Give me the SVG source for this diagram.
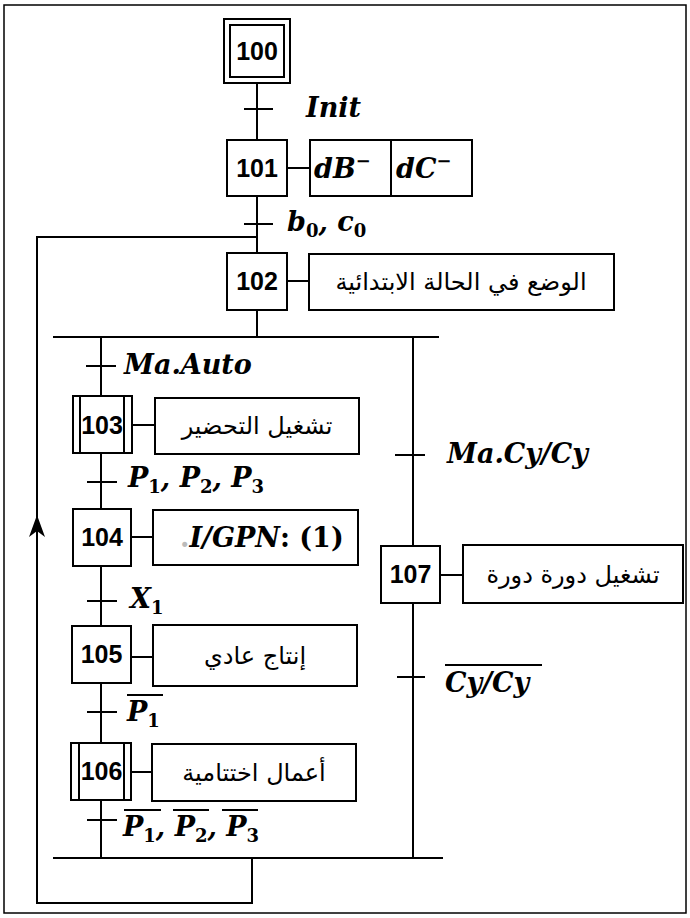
<svg xmlns="http://www.w3.org/2000/svg" width="690" height="918" viewBox="0 0 690 918">
<defs>
<style>
.st{fill:#fff;stroke:#000;stroke-width:2}
.ln{stroke:#000;stroke-width:2;fill:none}
.num{font-family:"Liberation Sans",Arial,sans-serif;font-weight:bold;font-size:25px;text-anchor:middle}
.math{font-family:"DejaVu Serif",serif;font-style:italic;font-weight:bold;font-size:27px}
.up{font-style:normal}
.ar{font-family:"DejaVu Sans",sans-serif;font-size:24px;text-anchor:middle;direction:rtl}
</style>
<marker id="arr" markerUnits="userSpaceOnUse" markerWidth="22" markerHeight="16" viewBox="0 0 22 16" refX="22" refY="8" orient="auto">
<path d="M0,0 L22,8 L0,16 L6,8 z" fill="#000"/>
</marker>
</defs>
<rect x="0" y="0" width="690" height="918" fill="#fff"/>
<rect x="4" y="5" width="682" height="908" fill="none" stroke="#000" stroke-width="1.5"/>

<g id="connectors">
<path class="ln" d="M257,83 V140 M257,196 V253 M257,310 V337"/>
<path class="ln" d="M53,337 H439 M53,858 H443"/>
<path class="ln" d="M101,337 V396 M101,453 V509 M101,566 V626 M101,683 V743 M101,800 V858"/>
<path class="ln" d="M413,337 V546 M413,603 V858"/>
<path class="ln" d="M252,858 V903 H37 V237 H257"/>
<path class="ln" d="M37,560 V515" marker-end="url(#arr)"/>
<path class="ln" d="M244,109 H273 M244,224 H273 M86,366 H116 M87,482 H117 M87,601 H117 M87,712 H117 M87,820 H117 M395,455 H425 M397,677 H425"/>
<path class="ln" d="M287,168 H310 M287,281 H309 M132,425 H155 M131,537 H153 M131,657 H153 M131,772 H152 M440,575 H463"/>
</g>

<g id="s100">
<rect class="st" x="224" y="19" width="66" height="64"/>
<rect class="st" x="230" y="25" width="54" height="52"/>
<text class="num" x="257" y="60">100</text>
</g>
<g id="t-init"><text class="math" x="306" y="117">Init</text></g>

<g id="s101">
<rect class="st" x="227" y="140" width="60" height="56"/>
<text class="num" x="257" y="177">101</text>
</g>
<g id="a101">
<rect class="st" x="310" y="140" width="162" height="56"/>
<path class="ln" d="M391,140 V196"/>
<text class="math" x="314" y="178">dB<tspan class="up" font-size="18" dy="-11">−</tspan></text>
<text class="math" x="396" y="178">dC<tspan class="up" font-size="18" dy="-11">−</tspan></text>
</g>
<g id="t-b0c0"><text class="math" x="287" y="231">b<tspan class="up" font-size="18" dy="6">0</tspan><tspan dy="-6">, c</tspan><tspan class="up" font-size="18" dy="6">0</tspan></text></g>

<g id="s102">
<rect class="st" x="227" y="253" width="60" height="57"/>
<text class="num" x="257" y="290">102</text>
</g>
<g id="a102">
<rect class="st" x="309" y="254" width="305" height="56"/>
<text class="ar" x="461" y="290">الوضع في الحالة الابتدائية</text>
</g>

<g id="t-maauto"><text class="math" x="124" y="374">Ma.Auto</text></g>

<g id="s103">
<rect class="st" x="73" y="396" width="59" height="57"/>
<path class="ln" d="M80,396 V453 M124,396 V453"/>
<text class="num" x="102" y="434">103</text>
</g>
<g id="a103">
<rect class="st" x="155" y="398" width="204" height="56"/>
<text class="ar" x="257" y="434">تشغيل التحضير</text>
</g>
<g id="t-p123"><text class="math" x="128" y="487">P<tspan class="up" font-size="18" dy="6">1</tspan><tspan dy="-6">, P</tspan><tspan class="up" font-size="18" dy="6">2</tspan><tspan dy="-6">, P</tspan><tspan class="up" font-size="18" dy="6">3</tspan></text></g>

<g id="s104">
<rect class="st" x="73" y="509" width="58" height="57"/>
<text class="num" x="102" y="546">104</text>
</g>
<g id="a104">
<rect class="st" x="153" y="510" width="205" height="55"/>
<text class="math" x="180" y="547"><tspan fill="#bbb" class="up">.</tspan>I/GPN<tspan class="up">: (1)</tspan></text>
</g>
<g id="t-x1"><text class="math" x="130" y="608">X<tspan class="up" font-size="18" dy="6">1</tspan></text></g>

<g id="s105">
<rect class="st" x="72" y="626" width="59" height="57"/>
<text class="num" x="101.5" y="663">105</text>
</g>
<g id="a105">
<rect class="st" x="153" y="625" width="204" height="61"/>
<text class="ar" x="255" y="664">إنتاج عادي</text>
</g>
<g id="t-p1n">
<text class="math" x="127" y="721">P<tspan class="up" font-size="18" dy="6">1</tspan></text>
<path class="ln" stroke-width="1.5" d="M127,695 H163"/>
</g>

<g id="s106">
<rect class="st" x="71" y="743" width="60" height="57"/>
<path class="ln" d="M79,743 V800 M124,743 V800"/>
<text class="num" x="101.5" y="780">106</text>
</g>
<g id="a106">
<rect class="st" x="152" y="744" width="204" height="57"/>
<text class="ar" x="254" y="781">أعمال اختتامية</text>
</g>
<g id="t-p123n">
<text class="math" x="123" y="836">P<tspan class="up" font-size="18" dy="6">1</tspan><tspan dy="-6">, P</tspan><tspan class="up" font-size="18" dy="6">2</tspan><tspan dy="-6">, P</tspan><tspan class="up" font-size="18" dy="6">3</tspan></text>
<path class="ln" stroke-width="1.5" d="M124,810 H161 M173,810 H209 M222,810 H258"/>
</g>

<g id="t-macy"><text class="math" x="447" y="463">Ma.Cy/Cy</text></g>
<g id="s107">
<rect class="st" x="381" y="546" width="59" height="57"/>
<text class="num" x="410.5" y="583">107</text>
</g>
<g id="a107">
<rect class="st" x="463" y="545" width="220" height="58"/>
<text class="ar" x="573" y="583">تشغيل دورة دورة</text>
</g>
<g id="t-cyn">
<text class="math" x="445" y="692">Cy/Cy</text>
<path class="ln" stroke-width="1.5" d="M445,665 H542"/>
</g>
</svg>
